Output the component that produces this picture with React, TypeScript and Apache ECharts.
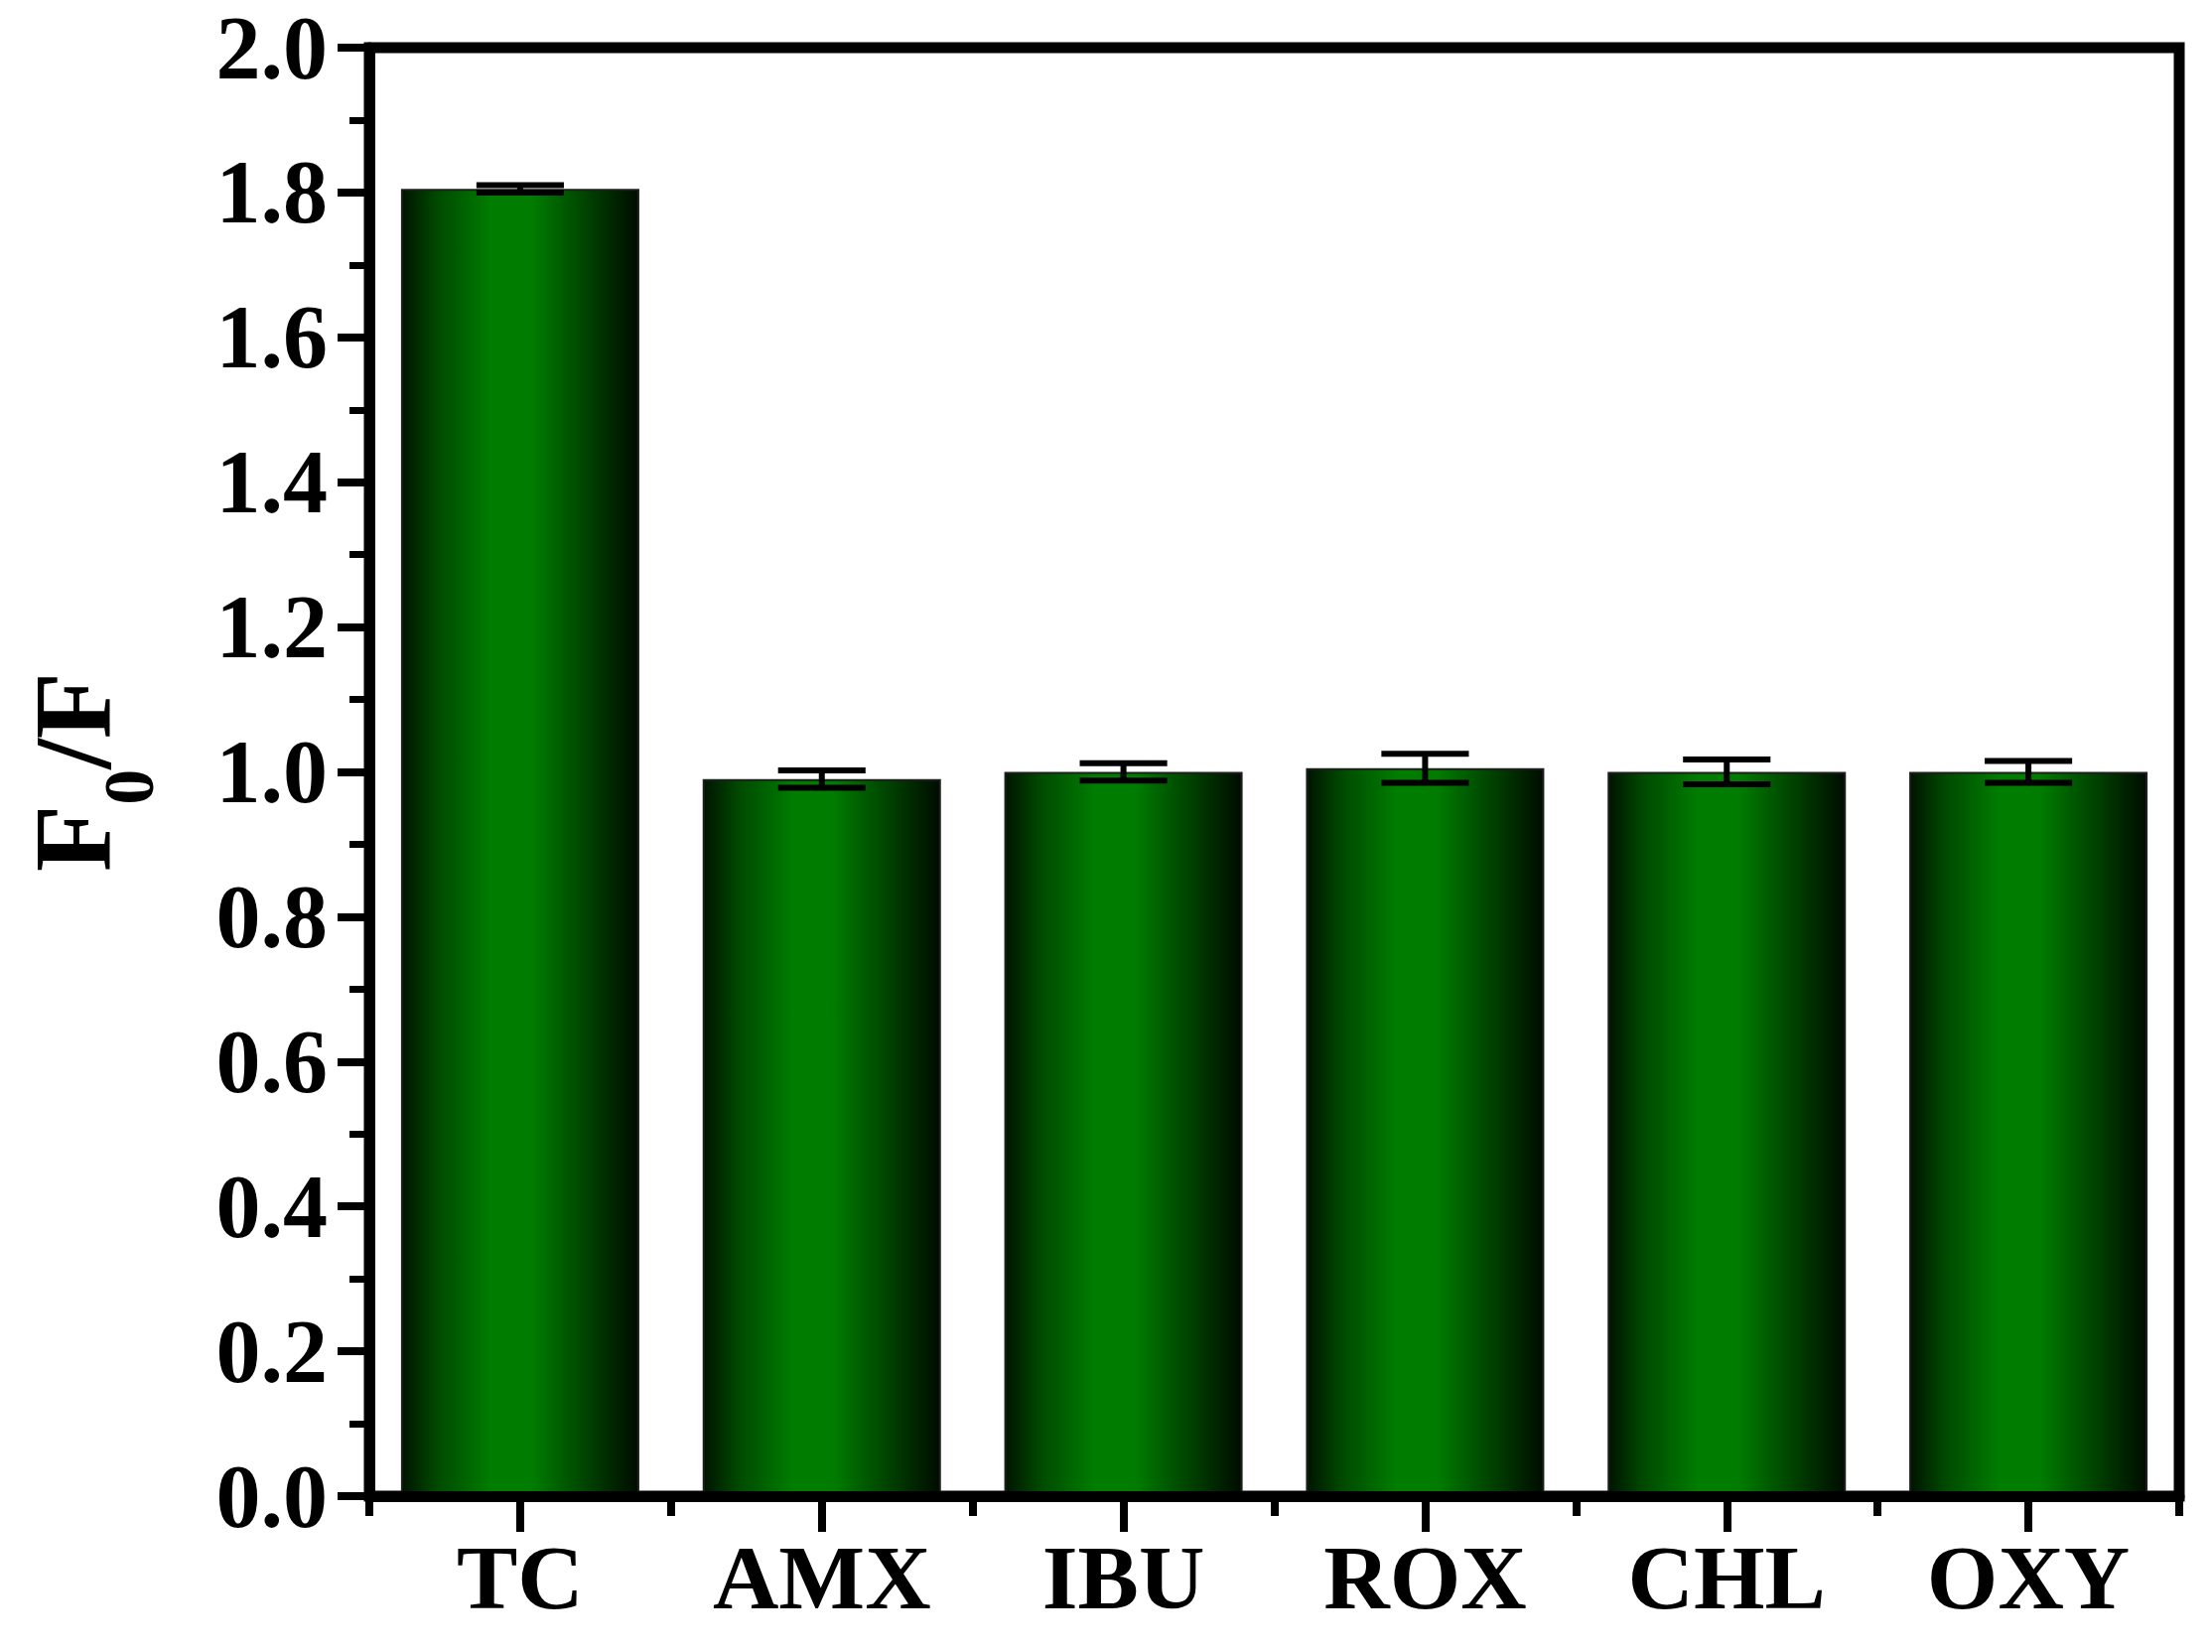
import React, { useEffect, useRef } from "react";
import * as echarts from "echarts";

const categories = ["TC", "AMX", "IBU", "ROX", "CHL", "OXY"];
const values = [1.805, 0.99, 1.0, 1.005, 1.0, 1.0];
const errors = [0.005, 0.012, 0.012, 0.02, 0.017, 0.015];
const yMin = 0;
const yMax = 2.0;
const yInterval = 0.2;

const FONT = "'Liberation Serif', 'Times New Roman', 'DejaVu Serif', serif";

export default function App() {
  const ref = useRef<HTMLDivElement>(null);

  useEffect(() => {
    if (!ref.current) return;
    const chart = echarts.init(ref.current, undefined, { renderer: "svg" });

    const barGradient = new echarts.graphic.LinearGradient(0, 0, 1, 0, [
      { offset: 0, color: "#001400" },
      { offset: 0.15, color: "#004a00" },
      { offset: 0.38, color: "#007d00" },
      { offset: 0.55, color: "#007c00" },
      { offset: 0.8, color: "#003d00" },
      { offset: 1, color: "#000c00" },
    ]);

    const errData = categories.map((_, i) => [i, values[i], errors[i]]);

    const option: any = {
      animation: false,
      backgroundColor: "#ffffff",
      grid: {
        left: 372,
        right: 33,
        top: 48,
        bottom: 157,
        show: true,
        borderColor: "#000",
        borderWidth: 11,
        backgroundColor: "transparent",
        containLabel: false,
      },
      xAxis: [
        {
          type: "category",
          data: categories,
          position: "bottom",
          z: 10,
          axisLine: { show: true, lineStyle: { color: "#000", width: 11 } },
          axisTick: {
            show: true,
            alignWithLabel: true,
            length: 36,
            lineStyle: { color: "#000", width: 8 },
          },
          axisLabel: {
            show: true,
            margin: 36,
            color: "#000",
            fontFamily: FONT,
            fontWeight: "bold",
            fontSize: 92,
          },
          splitLine: { show: false },
        },
        {
          type: "category",
          data: categories,
          position: "bottom",
          z: 10,
          axisLine: { show: false },
          axisTick: {
            show: true,
            alignWithLabel: false,
            length: 20,
            lineStyle: { color: "#000", width: 8 },
          },
          axisLabel: { show: false },
          splitLine: { show: false },
        },
      ],
      yAxis: {
        type: "value",
        min: yMin,
        max: yMax,
        interval: yInterval,
        z: 10,
        axisLine: { show: true, lineStyle: { color: "#000", width: 11 } },
        axisTick: {
          show: true,
          length: 32,
          lineStyle: { color: "#000", width: 8 },
        },
        minorTick: {
          show: true,
          splitNumber: 2,
          length: 20,
          lineStyle: { color: "#000", width: 7 },
        },
        splitLine: { show: false },
        axisLabel: {
          margin: 42,
          color: "#000",
          fontFamily: FONT,
          fontWeight: "bold",
          fontSize: 90,
          formatter: (v: number) => v.toFixed(1),
        },
        name: "{a|F}{b|0}{a|/F}",
        nameLocation: "middle",
        nameGap: 131,
        nameTextStyle: {
          color: "#000",
          rich: {
            a: {
              fontFamily: FONT,
              fontWeight: "bold",
              fontSize: 110,
              lineHeight: 110,
              verticalAlign: "top",
              color: "#000",
            },
            b: {
              fontFamily: FONT,
              fontWeight: "bold",
              fontSize: 72,
              lineHeight: 222,
              verticalAlign: "middle",
              color: "#000",
            },
          },
        },
      },
      series: [
        {
          type: "bar",
          xAxisIndex: 0,
          data: values,
          barWidth: "79%",
          itemStyle: {
            color: barGradient,
            borderColor: "#1e1e1e",
            borderWidth: 2,
          },
          z: 2,
        },
        {
          type: "custom",
          xAxisIndex: 0,
          z: 5,
          data: errData,
          encode: { x: 0, y: 1 },
          renderItem: (params: any, api: any) => {
            const idx = api.value(0);
            const v = api.value(1);
            const e = api.value(2);
            const hi = api.coord([idx, v + e]);
            const lo = api.coord([idx, v - e]);
            const half = api.size([1, 0])[0] * 0.145;
            const style = { stroke: "#000", lineWidth: 6 };
            return {
              type: "group",
              children: [
                { type: "line", shape: { x1: hi[0], y1: hi[1], x2: lo[0], y2: lo[1] }, style },
                { type: "line", shape: { x1: hi[0] - half, y1: hi[1], x2: hi[0] + half, y2: hi[1] }, style },
                { type: "line", shape: { x1: lo[0] - half, y1: lo[1], x2: lo[0] + half, y2: lo[1] }, style },
              ],
            };
          },
        },
      ],
    };

    chart.setOption(option);
    return () => chart.dispose();
  }, []);

  return (
    <div
      ref={ref}
      style={{ position: "fixed", left: 0, top: 0, width: 2228, height: 1664, background: "#fff" }}
    />
  );
}
